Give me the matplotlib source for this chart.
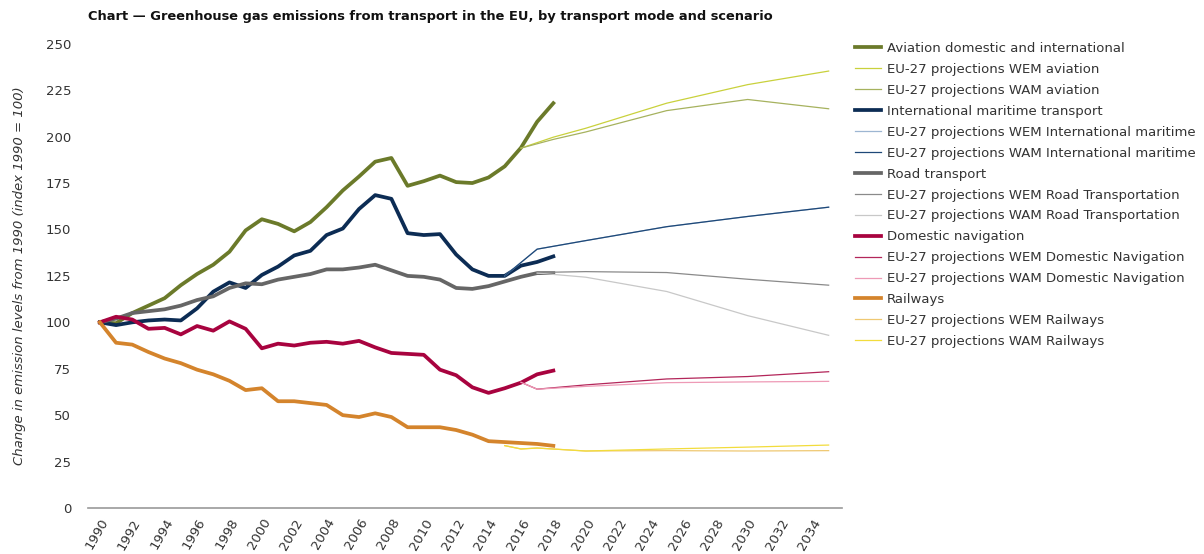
import matplotlib.pyplot as plt

years = list(range(1990, 2019))

aviation = [100, 99.5, 105, 109, 113, 120, 126, 131, 138, 149.5, 155.5, 153, 149, 154, 162, 171, 178.5, 186.5, 188.5, 173.5,
            176, 179, 175.5, 175, 178, 184, 194, 208, 218]
maritime = [100, 98.5, 100, 101, 101.5, 101, 107.5, 116.5, 121.5, 118.5, 125.5, 130, 136, 138.5, 147, 150.5, 161, 168.5, 166.5, 148,
            147, 147.5, 136.5, 128.5, 125, 125, 130.5, 132.5, 135.5]
road = [100, 102, 105, 106, 107, 109, 112, 114, 118.5, 121, 120.5, 123, 124.5, 126, 128.5, 128.5, 129.5, 131, 128, 125,
        124.5, 123, 118.5, 118, 119.5, 122, 124.5, 126.5, 126.5]
dom_nav = [100, 103, 101.5, 96.5, 97, 93.5, 98, 95.5, 100.5, 96.5, 86, 88.5, 87.5, 89, 89.5, 88.5, 90, 86.5, 83.5, 83,
           82.5, 74.5, 71.5, 65, 62, 64.5, 67.5, 72, 74]
railways = [100, 89, 88, 84, 80.5, 78, 74.5, 72, 68.5, 63.5, 64.5, 57.5, 57.5, 56.5, 55.5, 50, 49, 51, 49, 43.5,
            43.5, 43.5, 42, 39.5, 36, 35.5, 35, 34.5, 33.5]

# projections
av_years = [2016, 2018, 2020, 2025, 2030, 2035]
av_wem = [193.8, 199.7, 204.5, 218, 228, 235.3]
av_wam = [193.8, 198.5, 202.5, 214, 220, 215]

mar_years = [2015, 2017, 2020, 2025, 2030, 2035]
mar_wem = [125, 139.4, 144, 151.5, 157, 162]
mar_wam = [125, 139.4, 144, 151.5, 157, 162]

road_years = [2017, 2018, 2020, 2025, 2030, 2035]
road_wem = [126.5, 127, 127.3, 126.8, 123.2, 120]
road_wam = [126.5, 125.8, 124.3, 116.6, 103.6, 93]

nav_years = [2016, 2017, 2020, 2025, 2030, 2035]
nav_wem = [67.7, 64, 66.3, 69.5, 70.8, 73.4]
nav_wam = [67.7, 64, 65.5, 67.5, 67.9, 68.2]

rail_years = [2015, 2016, 2017, 2020, 2025, 2030, 2035]
rail_wem = [33.6, 31.8, 32.3, 30.7, 30.9, 30.7, 30.9]
rail_wam = [33.6, 31.8, 32.3, 30.7, 31.8, 32.8, 33.9]

plt.rcParams['font.family'] = ['DejaVu Sans']
fig = plt.figure(figsize=(12.04, 5.54), dpi=100)
ax = fig.add_axes([0.073, 0.083, 0.626, 0.838])

thick = 2.7
thin = 0.9
ax.plot(years, aviation, color='#6b7a2a', lw=thick, label='Aviation domestic and international')
ax.plot(av_years, av_wem, color='#c9d13c', lw=thin, label='EU-27 projections WEM aviation')
ax.plot(av_years, av_wam, color='#a6b25e', lw=thin, label='EU-27 projections WAM aviation')
ax.plot(years, maritime, color='#0c2c54', lw=thick, label='International maritime transport')
ax.plot(mar_years, mar_wem, color='#9db6d2', lw=thin, label='EU-27 projections WEM International maritime')
ax.plot(mar_years, mar_wam, color='#1e4878', lw=thin, label='EU-27 projections WAM International maritime')
ax.plot(years, road, color='#666666', lw=thick, label='Road transport')
ax.plot(road_years, road_wem, color='#8a8a8a', lw=thin, label='EU-27 projections WEM Road Transportation')
ax.plot(road_years, road_wam, color='#c8c8c8', lw=thin, label='EU-27 projections WAM Road Transportation')
ax.plot(years, dom_nav, color='#a8033f', lw=thick, label='Domestic navigation')
ax.plot(nav_years, nav_wem, color='#b3265a', lw=thin, label='EU-27 projections WEM Domestic Navigation')
ax.plot(nav_years, nav_wam, color='#ee9ab6', lw=thin, label='EU-27 projections WAM Domestic Navigation')
ax.plot(years, railways, color='#d4842c', lw=thick, label='Railways')
ax.plot(rail_years, rail_wem, color='#efc872', lw=thin, label='EU-27 projections WEM Railways')
ax.plot(rail_years, rail_wam, color='#f2dc3c', lw=thin, label='EU-27 projections WAM Railways')

ax.set_xlim(1989.26, 2035.8)
ax.set_ylim(0, 250)
ax.set_yticks(range(0, 251, 25))
ax.set_xticks(range(1990, 2035, 2))
ax.tick_params(axis='both', length=0, labelsize=9.5, labelcolor='#333333')
ax.tick_params(axis='y', pad=12)
ax.tick_params(axis='x', pad=6)
plt.setp(ax.get_xticklabels(), rotation=60, ha='right', rotation_mode='anchor')
for s in ['top', 'right', 'left']:
    ax.spines[s].set_visible(False)
ax.spines['bottom'].set_color('#999999')
ax.spines['bottom'].set_linewidth(1.2)
ax.set_ylabel('Change in emission levels from 1990 (index 1990 = 100)', fontstyle='italic',
              fontsize=9.5, color='#333333', labelpad=14)

fig.text(0.073, 0.971, 'Chart \u2014 Greenhouse gas emissions from transport in the EU, by transport mode and scenario',
         fontsize=9.35, fontweight='bold', va='center', ha='left', color='#111111')

fig.legend(loc='upper left', bbox_to_anchor=(0.710, 0.924), frameon=False, fontsize=9.5,
           handlelength=2.0, handletextpad=0.4, labelspacing=0.6, borderaxespad=0, borderpad=0,
           labelcolor='#333333')

fig.savefig('out.png', dpi=100)
